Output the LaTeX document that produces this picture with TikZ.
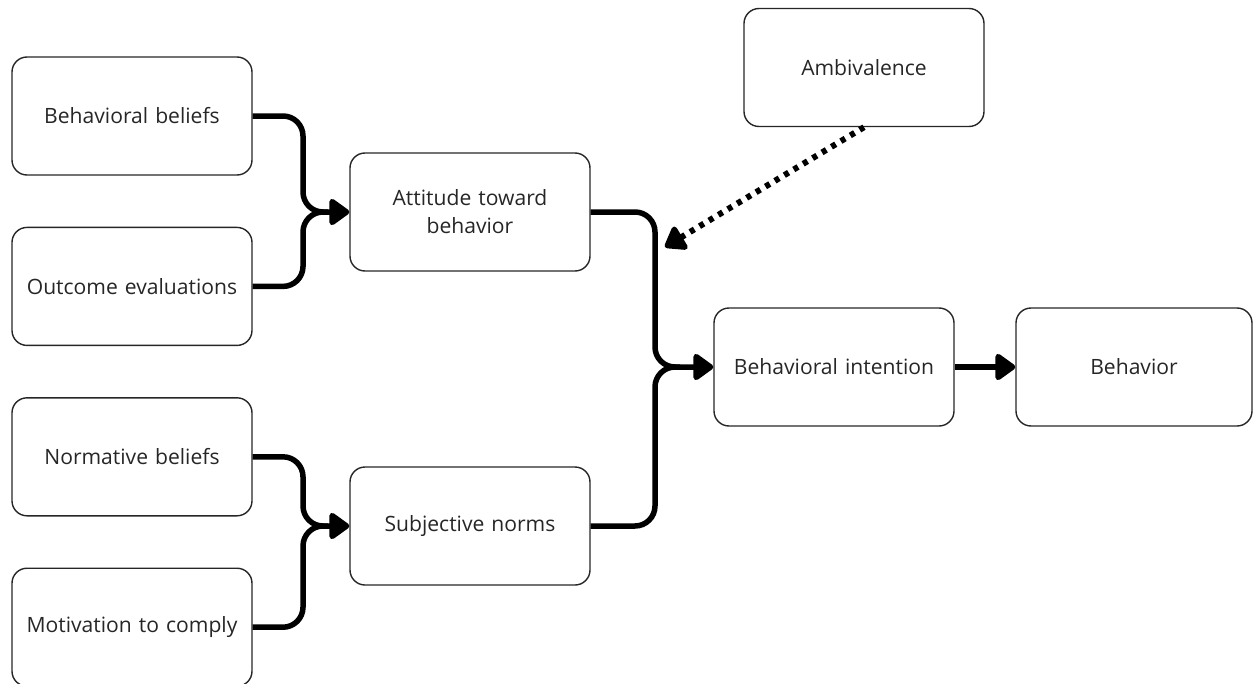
\documentclass[tikz,border=0pt]{standalone}
\usepackage{fontspec}
\setmainfont{Open Sans}
\usetikzlibrary{positioning,arrows.meta}

\begin{document}
\begin{tikzpicture}[
        link/.style = {line width=0.11cm, rounded corners=0.4cm},
        tip/.style = {-{Triangle[length=0.44cm, width=0.6cm, round]}},
    ]
    \tikzstyle{box} = [draw=black!85, line width=0.8pt, rounded corners=0.3cm,
        minimum width=4.8cm, minimum height=2.36cm, align=center,
        text width=4.3cm, text=black!85, font=\fontsize{12}{16}\selectfont];
    \useasboundingbox (0,0) rectangle (25.08,-13.68);
    \node [box] (bb) at (2.64,-2.32) {Behavioral beliefs};
    \node [box, below = 1.02cm of bb] (oe) {Outcome evaluations};
    \node [box, below = 1.02cm of oe] (nb) {Normative beliefs};
    \node [box, below = 1.02cm of nb] (mc) {Motivation to comply};
    \node [box] (att) at (9.40,-4.24) {Attitude toward\\behavior};
    \node [box] (sn) at (9.40,-10.52) {Subjective norms};
    \node [box] (bi) at (16.68,-7.34) {Behavioral intention};
    \node [box, minimum width=4.72cm] (beh) at (22.68,-7.34) {Behavior};
    \node [box] (amb) at (17.28,-1.35) {Ambivalence};
    \coordinate (j1) at (6.06,-4.24);
    \coordinate (j2) at (6.06,-10.52);
    \coordinate (j3) at (13.10,-7.34);
    \coordinate (ambtip) at (13.30,-4.94);
    % beliefs into attitude and norms
    \draw [link, tip] (bb.east) -| (j1) -- (att.west);
    \draw [link] (oe.east) -| (j1) -- ++(0.5,0);
    \draw [link, tip] (nb.east) -| (j2) -- (sn.west);
    \draw [link] (mc.east) -| (j2) -- ++(0.5,0);
    % into intention
    \draw [link, tip] (att.east) -| (j3) -- (bi.west);
    \draw [link] (sn.east) -| (j3) -- ++(0.5,0);
    \draw [link, tip] (bi.east) -- (beh.west);
    % ambivalence
    \draw [line width=0.12cm, dash pattern=on 0.1cm off 0.12cm, tip] (amb.south) -- (ambtip);
\end{tikzpicture}
\end{document}
